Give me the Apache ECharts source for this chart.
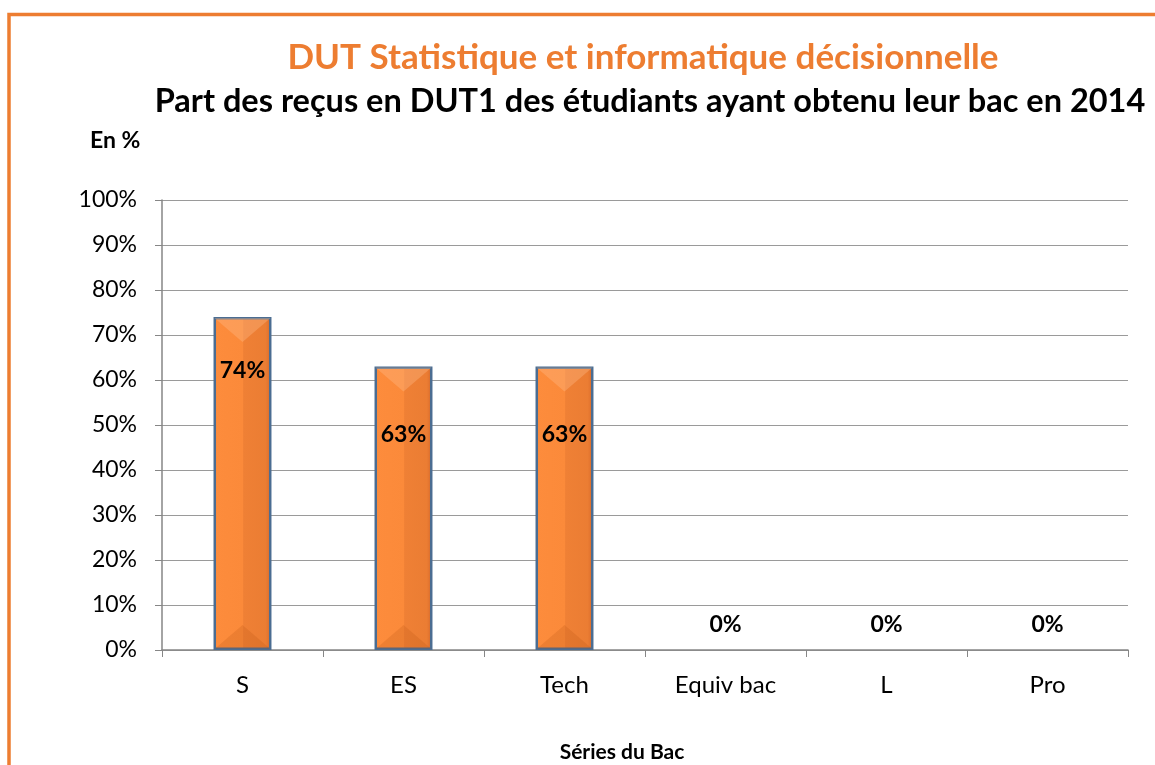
<!DOCTYPE html>
<html>
<head>
<meta charset="utf-8">
<script src="https://cdn.jsdelivr.net/npm/echarts@6/dist/echarts.min.js"></script>
<style>
  html, body { margin: 0; padding: 0; background: #fff; overflow: hidden; }
  #chart { width: 1155px; height: 765px; }
</style>
</head>
<body>
<div id="chart"></div>
<script>
  // données
  const categories = ["S", "ES", "Tech", "Equiv bac", "L", "Pro"];
  const values = [74, 63, 63, 0, 0, 0];
  const yTicks = [0, 10, 20, 30, 40, 50, 60, 70, 80, 90, 100];

  const font = "Lato, 'Open Sans', sans-serif";
  // décalage vertical des étiquettes (comme sur l'original)
  const labelDy = [70, 85, 85, -9, -9, -9];
  const barRatio = 0.36;

  // biseau haut/bas des barres (effet Excel)
  function renderBevel(params, api) {
    const v = api.value(1);
    if (!v) return null;
    const top = api.coord([api.value(0), v]);
    const bot = api.coord([api.value(0), 0]);
    const w = api.size([1, 0])[0] * barRatio;
    const x0 = top[0] - w / 2, x1 = top[0] + w / 2;
    const d = w * 0.43;
    return {
      type: "group",
      children: [
        {
          type: "polygon",
          shape: { points: [[x0 + 1, top[1] + 1], [x1 - 1, top[1] + 1], [top[0], top[1] + d]] },
          style: { fill: "rgba(255,190,140,0.35)" },
        },
        {
          type: "polygon",
          shape: { points: [[x0 + 1, bot[1] - 1], [x1 - 1, bot[1] - 1], [top[0], bot[1] - d]] },
          style: { fill: "rgba(170,70,10,0.18)" },
        },
      ],
    };
  }

  const myChart = echarts.init(document.getElementById("chart"));
  myChart.setOption({
    animation: false,
    backgroundColor: "#fff",
    title: [
      {
        text: "DUT Statistique et informatique décisionnelle",
        left: 638,
        textAlign: "center",
        top: 35,
        textStyle: { color: "#ED7D31", fontSize: 35, fontWeight: "bold", fontFamily: font },
      },
      {
        text: "Part des reçus en DUT1 des étudiants ayant obtenu leur bac en 2014",
        left: 645,
        textAlign: "center",
        top: 80,
        textStyle: { color: "#000", fontSize: 32.5, fontWeight: "bold", fontFamily: font },
      },
    ],
    graphic: [
      {
        type: "rect",
        shape: { x: 9, y: 14.5, width: 1300, height: 900 },
        style: { fill: "none", stroke: "#ED7D31", lineWidth: 3.5 },
        silent: true,
      },
      {
        type: "text",
        left: 90,
        top: 129,
        style: { text: "En %", fill: "#000", font: "bold 23px " + font },
      },
      {
        type: "text",
        x: 622,
        y: 752,
        style: {
          text: "Séries du Bac",
          fill: "#000",
          font: "bold 21px " + font,
          textAlign: "center",
          textVerticalAlign: "middle",
        },
      },
    ],
    grid: { left: 162, right: 27, top: 200, bottom: 115, outerBoundsMode: "none" },
    xAxis: {
      type: "category",
      data: categories,
      axisLine: { lineStyle: { color: "#868686", width: 1.5 } },
      axisTick: { show: true, length: 7, lineStyle: { color: "#868686" } },
      axisLabel: { color: "#000", fontSize: 24, margin: 23, fontFamily: font },
    },
    yAxis: {
      type: "value",
      min: 0,
      max: 100,
      interval: 10,
      axisLine: { show: true, lineStyle: { color: "#868686", width: 1.5 } },
      axisTick: { show: true, length: 7, lineStyle: { color: "#868686" } },
      axisLabel: {
        color: "#000",
        fontSize: 23,
        margin: 25,
        fontFamily: font,
        formatter: (v) => (yTicks.includes(v) ? v + "%" : ""),
      },
      splitLine: { lineStyle: { color: "#9A9A9A", width: 1 } },
    },
    series: [
      {
        type: "bar",
        barWidth: barRatio * 100 + "%",
        data: values.map((v, i) => ({
          value: v,
          label: { offset: [0, labelDy[i]] },
          itemStyle: v ? {} : { borderWidth: 0 },
        })),
        itemStyle: {
          color: new echarts.graphic.LinearGradient(0, 0, 1, 0, [
            { offset: 0, color: "#FD8C3C" },
            { offset: 0.5, color: "#FB8A3A" },
            { offset: 0.52, color: "#EF8035" },
            { offset: 0.9, color: "#EB7D33" },
            { offset: 1, color: "#D8692A" },
          ]),
          borderColor: "#4B6D92",
          borderWidth: 2.5,
        },
        label: {
          show: true,
          position: "top",
          formatter: "{c}%",
          color: "#000",
          fontSize: 23,
          fontWeight: "bold",
          fontFamily: font,
        },
        z: 2,
      },
      {
        type: "custom",
        renderItem: renderBevel,
        data: values.map((v, i) => [i, v]),
        silent: true,
        z: 3,
      },
    ],
  });
</script>
</body>
</html>
